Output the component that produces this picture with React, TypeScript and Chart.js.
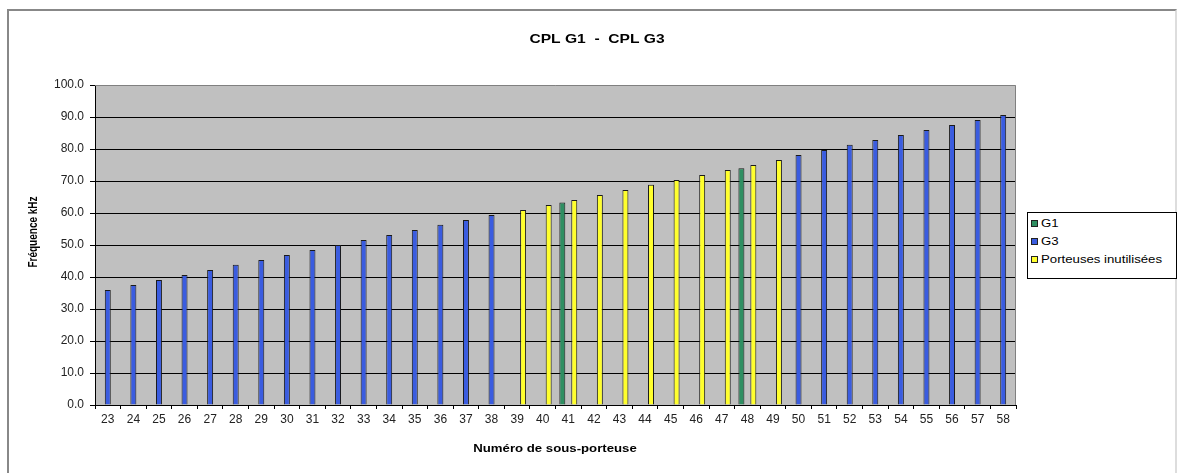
import React, { useEffect, useRef } from "react";
import { Chart, registerables } from "chart.js";

Chart.register(...registerables);

const categories: string[] = [
  "23", "24", "25", "26", "27", "28", "29", "30", "31", "32", "33", "34",
  "35", "36", "37", "38", "39", "40", "41", "42", "43", "44", "45", "46",
  "47", "48", "49", "50", "51", "52", "53", "54", "55", "56", "57", "58",
];

const g1Values: (number | null)[] = [
  null, null, null, null, null, null, null, null, null, null, null, null,
  null, null, null, null, null, null, 63.3, null, null, null, null, null,
  null, 74.0, null, null, null, null, null, null, null, null, null, null,
];

const g3Values: (number | null)[] = [
  35.9, 37.5, 39.1, 40.6, 42.2, 43.8, 45.3, 46.9, 48.4, 50.0, 51.6, 53.1,
  54.7, 56.3, 57.8, 59.4, null, null, null, null, null, null, null, null,
  null, null, null, 78.1, 79.7, 81.3, 82.8, 84.4, 85.9, 87.5, 89.1, 90.6,
];

const unusedValues: (number | null)[] = [
  null, null, null, null, null, null, null, null, null, null, null, null,
  null, null, null, null, 60.9, 62.5, 64.1, 65.6, 67.2, 68.8, 70.3, 71.9,
  73.4, 75.0, 76.6, null, null, null, null, null, null, null, null, null,
];

const seriesNames: string[] = ["G1", "G3", "Porteuses inutilisées"];
const seriesColors: string[] = ["#2F8F62", "#3A5CE0", "#FFFF2E"];

const chartTitle = "CPL G1  -  CPL G3";
const xTitle = "Numéro de sous-porteuse";
const yTitle = "Fréquence kHz";

const FONT = "'Liberation Sans', Arial, sans-serif";
const STRETCH = 1.2;

export default function App() {
  const canvasRef = useRef<HTMLCanvasElement | null>(null);

  useEffect(() => {
    const canvas = canvasRef.current;
    if (!canvas) return;

    const drawStretched = (ctx: any, text: string, x: number, y: number) => {
      ctx.save();
      ctx.translate(x, y);
      ctx.scale(STRETCH, 1);
      ctx.fillText(text, 0, 0);
      ctx.restore();
    };

    const plotBg = {
      id: "plotBg",
      beforeDraw(chart: any) {
        const { ctx, chartArea } = chart;
        ctx.save();
        ctx.fillStyle = "#C0C0C0";
        ctx.fillRect(
          chartArea.left,
          chartArea.top,
          chartArea.right - chartArea.left,
          chartArea.bottom - chartArea.top
        );
        ctx.restore();
      },
      afterDraw(chart: any) {
        const { ctx, chartArea } = chart;
        ctx.save();
        ctx.strokeStyle = "#808080";
        ctx.lineWidth = 1;
        ctx.beginPath();
        ctx.moveTo(chartArea.left, chartArea.top + 0.5);
        ctx.lineTo(chartArea.right - 0.5, chartArea.top + 0.5);
        ctx.lineTo(chartArea.right - 0.5, chartArea.bottom);
        ctx.stroke();

        ctx.fillStyle = "#000";
        ctx.textAlign = "center";
        ctx.textBaseline = "middle";
        ctx.font = `bold 13px ${FONT}`;
        drawStretched(ctx, chartTitle, 597, 39);
        ctx.font = `bold 11px ${FONT}`;
        drawStretched(ctx, xTitle, 555, 449);
        ctx.save();
        ctx.translate(34, 232);
        ctx.rotate(-Math.PI / 2);
        ctx.scale(1, STRETCH);
        ctx.font = `bold 10px ${FONT}`;
        ctx.fillText(yTitle, 0, 0);
        ctx.restore();
        ctx.restore();
      },
    };

    const chart = new Chart(canvas, {
      type: "bar",
      data: {
        labels: categories,
        datasets: [
          {
            label: seriesNames[0],
            data: g1Values,
            backgroundColor: seriesColors[0],
            borderColor: "#1a1a1a",
            borderWidth: 1,
          },
          {
            label: seriesNames[1],
            data: g3Values,
            backgroundColor: seriesColors[1],
            borderColor: "#1a1a1a",
            borderWidth: 1,
          },
          {
            label: seriesNames[2],
            data: unusedValues,
            backgroundColor: seriesColors[2],
            borderColor: "#1a1a1a",
            borderWidth: 1,
          },
        ] as any,
      },
      options: {
        animation: false,
        responsive: false,
        maintainAspectRatio: false,
        devicePixelRatio: 1,
        layout: { padding: { left: 0, top: 85, right: 163, bottom: 0 } },
        datasets: {
          bar: { categoryPercentage: 0.7, barPercentage: 1.0 },
        } as any,
        plugins: {
          legend: { display: false },
          title: { display: false },
          tooltip: { enabled: false },
        },
        scales: {
          x: {
            grid: {
              display: true,
              drawOnChartArea: false,
              drawTicks: true,
              tickLength: 4,
              color: "#000",
              offset: true,
            },
            border: { display: true, color: "#000", width: 1 },
            ticks: {
              color: "#222",
              font: { family: FONT, size: 12 },
              padding: 3,
              maxRotation: 0,
              autoSkip: false,
            },
            afterFit: (scale: any) => {
              scale.height = 68;
            },
          },
          y: {
            min: 0,
            max: 100,
            ticks: {
              stepSize: 10,
              color: "#222",
              font: { family: FONT, size: 12 },
              padding: 6,
              callback: (v: any) => Number(v).toFixed(1),
            },
            grid: {
              color: (ctx: any) =>
                ctx.tick && ctx.tick.value === 100 ? "rgba(0,0,0,0)" : "#000",
              drawTicks: true,
              tickLength: 5,
              tickColor: "#000",
            },
            border: { display: true, color: "#000", width: 1 },
            afterFit: (scale: any) => {
              scale.width = 95;
            },
          },
        },
      } as any,
      plugins: [plotBg],
    });

    return () => {
      chart.destroy();
    };
  }, []);

  const legendRow = (i: number) => (
    <div
      key={i}
      style={{
        display: "flex",
        alignItems: "center",
        height: 18,
        whiteSpace: "nowrap",
      }}
    >
      <span
        style={{
          display: "inline-block",
          width: 5,
          height: 5,
          border: "1px solid #222",
          background: seriesColors[i],
          marginRight: 3,
          flex: "none",
        }}
      />
      <span
        style={{
          display: "inline-block",
          transform: `scaleX(${STRETCH})`,
          transformOrigin: "left center",
        }}
      >
        {seriesNames[i]}
      </span>
    </div>
  );

  return (
    <div
      style={{
        position: "absolute",
        left: 0,
        top: 0,
        width: 1179,
        height: 473,
        overflow: "hidden",
        background: "#fff",
      }}
    >
      <div
        style={{
          position: "absolute",
          left: 7,
          top: 9,
          width: 1166,
          height: 500,
          borderTop: "2px solid #888",
          borderLeft: "2px solid #888",
          borderRight: "2px solid #ddd",
        }}
      />
      <canvas
        ref={canvasRef}
        width={1179}
        height={473}
        style={{ position: "absolute", left: 0, top: 0, width: 1179, height: 473 }}
      />
      <div
        style={{
          position: "absolute",
          left: 1027,
          top: 212,
          width: 150,
          height: 67,
          border: "1px solid #000",
          background: "#fff",
          boxSizing: "border-box",
          paddingTop: 1,
          paddingLeft: 3,
          fontFamily: FONT,
          fontSize: 11,
          color: "#000",
          lineHeight: "18px",
        }}
      >
        {[0, 1, 2].map(legendRow)}
      </div>
    </div>
  );
}
